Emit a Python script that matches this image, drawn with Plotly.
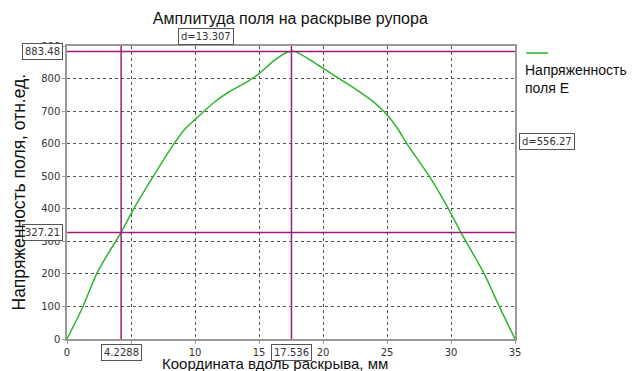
import plotly.graph_objects as go

x_mm = [0, 1.25, 2.31, 3.3, 4.2288, 5.07, 6.75, 8.36, 9.22, 10.0, 11.43, 12.73, 14.03, 15.0,
        16.1, 17.15, 17.536, 17.9, 18.96, 19.95, 21.3, 22.6, 23.9, 25.0, 25.85, 26.55,
        28.3, 29.8, 30.78, 31.6, 32.6, 33.77, 35]
e_field = [0, 100, 200, 268, 327.21, 390, 500, 600, 645, 674, 725, 761, 789, 815,
           853, 880, 883.48, 882, 858, 833, 799, 766, 730, 689, 645, 600,
           500, 400, 327, 270, 200, 100, 0]

marker_x = [4.2288, 17.536]
marker_y = [327.21, 883.48]
x_ticks = [0, 5, 10, 15, 20, 25, 30, 35]
y_ticks = [0, 100, 200, 300, 400, 500, 600, 700, 800, 900]

PURPLE = "#9c1c7c"
GREEN = "#2db52d"
LBL = dict(family="DejaVu Sans", size=10, color="#333333")

fig = go.Figure()
fig.add_trace(go.Scatter(x=x_mm, y=e_field, mode="lines", name="Напряженность поля E",
                         line=dict(color=GREEN, width=1.5, shape="spline", smoothing=0.6),
                         showlegend=False))

shapes = []
for xv in marker_x:
    shapes.append(dict(type="line", xref="x", yref="paper", x0=xv, x1=xv, y0=0, y1=1,
                       line=dict(color=PURPLE, width=1.5)))
for yv in marker_y:
    shapes.append(dict(type="line", xref="paper", yref="y", x0=0, x1=1, y0=yv, y1=yv,
                       line=dict(color=PURPLE, width=1.5)))
# legend swatch
shapes.append(dict(type="line", xref="paper", yref="paper", x0=1.025, x1=1.074, y0=0.976, y1=0.976,
                   line=dict(color=GREEN, width=1.5)))

box = dict(bordercolor="#555555", borderwidth=1, bgcolor="white", borderpad=2, font=LBL,
           showarrow=False)
ann = []
ann.append(dict(text=f"{marker_y[1]:.2f}", xref="paper", yref="y", x=0, y=marker_y[1],
                xanchor="right", xshift=-4, **box))
ann.append(dict(text=f"{marker_y[0]:.2f}", xref="paper", yref="y", x=0, y=marker_y[0],
                xanchor="right", xshift=-4, **box))
ann.append(dict(text=f"{marker_x[0]:.4f}", xref="x", yref="paper", x=marker_x[0], y=0,
                yanchor="top", yshift=-5, **box))
ann.append(dict(text=f"{marker_x[1]:.3f}", xref="x", yref="paper", x=marker_x[1], y=0,
                yanchor="top", yshift=-5, **box))
ann.append(dict(text=f"d={marker_x[1]-marker_x[0]:.3f}", xref="x", yref="paper",
                x=(marker_x[0] + marker_x[1]) / 2, y=1, yanchor="bottom", yshift=1, **box))
ann.append(dict(text=f"d={marker_y[1]-marker_y[0]:.2f}", xref="paper", yref="y", x=1,
                y=(marker_y[0] + marker_y[1]) / 2, xanchor="left", xshift=4, **box))
# legend text
ann.append(dict(text="Напряженность<br>поля E", xref="paper", yref="paper", x=1.018, y=0.953,
                xanchor="left", yanchor="top", align="left", showarrow=False,
                font=dict(family="Liberation Sans", size=14, color="#111111")))
# axis titles
ann.append(dict(text="Координата вдоль раскрыва, мм", xref="paper", yref="paper", x=0.465, y=0,
                xanchor="center", yanchor="top", yshift=-14, showarrow=False,
                font=dict(family="Liberation Sans", size=15, color="#111111")))
ann.append(dict(text="Напряженность поля, отн.ед.", xref="paper", yref="paper", x=0, y=0.5,
                xanchor="center", yanchor="middle", xshift=-49, textangle=-90, showarrow=False,
                font=dict(family="Liberation Sans", size=17.5, color="#111111")))

fig.update_layout(
    width=641, height=363,
    margin=dict(l=59, r=134, t=38, b=32),
    paper_bgcolor="white", plot_bgcolor="white",
    title=dict(text="Амплитуда поля на раскрыве рупора", x=0.4404, xanchor="center",
               y=0.972, yanchor="middle",
               font=dict(family="Liberation Sans", size=16, color="#111111")),
    shapes=shapes, annotations=ann,
    xaxis=dict(range=[0, 35], tickvals=x_ticks, showgrid=True, gridcolor="#555555",
               griddash="dot", gridwidth=1, showline=True, linecolor="#999999", linewidth=1.5,
               mirror=True, zeroline=False, ticks="outside", ticklen=3, tickcolor="#999999",
               tickfont=LBL),
    yaxis=dict(range=[0, 900], tickvals=y_ticks, showgrid=True, gridcolor="#555555",
               griddash="dot", gridwidth=1, showline=True, linecolor="#999999", linewidth=1.5,
               mirror=True, zeroline=False, ticks="outside", ticklen=3, tickcolor="#999999",
               tickfont=LBL),
)

fig.write_html("out.html")
